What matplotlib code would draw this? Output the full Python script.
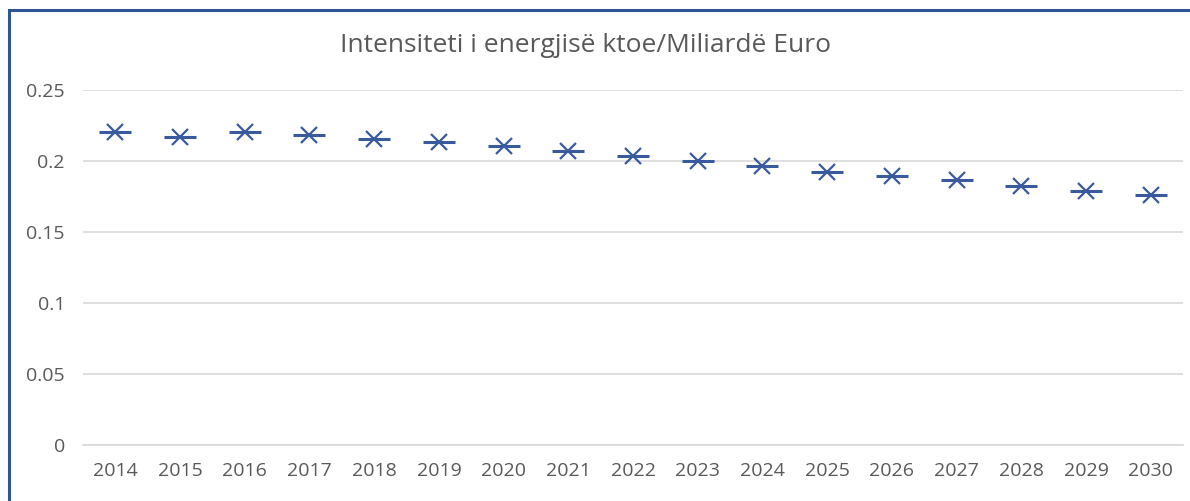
import matplotlib.pyplot as plt
from matplotlib.patches import Rectangle

years = [str(y) for y in range(2014, 2031)]
intensity = [0.2204, 0.2171, 0.2206, 0.2183, 0.2155, 0.2131, 0.2106, 0.2073,
             0.2037, 0.2003, 0.1968, 0.1926, 0.1897, 0.1864, 0.1826, 0.1791, 0.1761]
y_ticks = [0, 0.05, 0.1, 0.15, 0.2, 0.25]
y_labels = ['0', '0.05', '0.1', '0.15', '0.2', '0.25']

blue = '#3A5A9E'
grey_text = '#595959'

plt.rcParams['font.family'] = ['Open Sans', 'DejaVu Sans']

fig = plt.figure(figsize=(11.9, 5.01), dpi=100)
ax = fig.add_axes([83 / 1190, 1 - 445 / 501, 1100 / 1190, 355 / 501])

x = list(range(len(years)))
ax.plot(x, intensity, linestyle='none', marker='x', markersize=12,
        markeredgewidth=1.6, color=blue)
ax.plot(x, intensity, linestyle='none', marker='_', markersize=23.5,
        markeredgewidth=2.2, color=blue)

ax.set_xlim(-0.5, len(years) - 0.5)
ax.set_ylim(0, 0.25)
ax.set_xticks(x, years)
ax.set_yticks(y_ticks, y_labels)
ax.tick_params(length=0, labelsize=14, colors=grey_text)
ax.tick_params(axis='y', pad=13)
ax.tick_params(axis='x', pad=12)
ax.grid(axis='y', color='#D9D9D9', linewidth=1.2)
ax.set_axisbelow(True)
for s in ['top', 'right', 'left']:
    ax.spines[s].set_visible(False)
ax.spines['bottom'].set_color('#D9D9D9')
ax.spines['bottom'].set_linewidth(1.2)

fig.text(585 / 1190, 1 - 45 / 501, 'Intensiteti i energjisë ktoe/Miliardë Euro',
         ha='center', va='center', fontsize=19, color=grey_text)

# chart frame (cropped on right and bottom)
fig.patches.append(Rectangle((8.5 / 1190, -0.05), 1.2, 1 - 10.5 / 501 + 0.05,
                             transform=fig.transFigure, fill=False,
                             edgecolor='#2F5597', linewidth=2.2))

fig.savefig('out.png', dpi=100)
